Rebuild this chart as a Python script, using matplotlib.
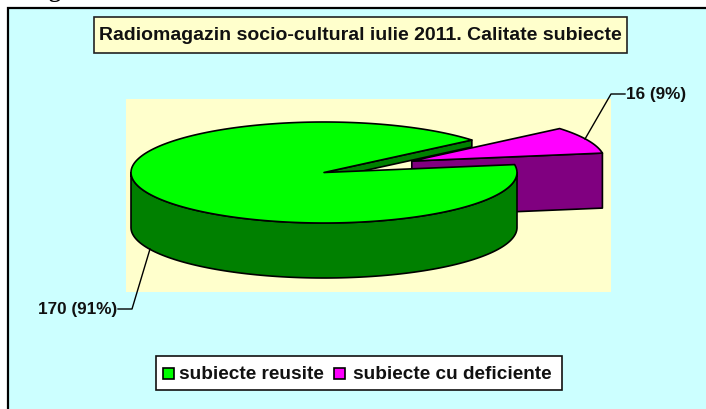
import numpy as np
import matplotlib
matplotlib.use('Agg')
import matplotlib.pyplot as plt
from matplotlib.patches import Polygon, Rectangle

title = 'Radiomagazin socio-cultural iulie 2011. Calitate subiecte'
categories = ['subiecte reusite', 'subiecte cu deficiente']
values = [170, 16]
colors = ['#00FF00', '#FF00FF']
side_colors = ['#008000', '#800080']

plt.rcParams['font.family'] = ['Liberation Sans', 'DejaVu Sans']

# pie geometry in picture pixels
cx, cy = 324, 173.5
rx, ry = 193, 50.5
depth = 55
cut_depth = 7
start_angle = 40
explode = 0.5

fig = plt.figure(figsize=(7.06, 4.10), dpi=100, facecolor='white')
ax = fig.add_axes([0, 0, 1, 1])
ax.set_xlim(0, 706)
ax.set_ylim(410, 0)
ax.axis('off')

# frame, runs off the right and bottom of the picture
ax.add_patch(Rectangle((8, 9), 720, 420, facecolor='#CCFFFF', edgecolor='black', lw=1.6, zorder=0))
ax.text(54, -3.5, 'g', family='Liberation Serif', fontweight='bold', fontsize=17, ha='center', va='baseline')

# plot area
ax.add_patch(Rectangle((126, 100), 485, 193, facecolor='#FFFFCC', edgecolor='none', zorder=1))


def ell(x0, y0, a):
    a = np.radians(a)
    return np.column_stack([x0 + rx * np.cos(a), y0 - ry * np.sin(a)])


total = sum(values)
a1 = start_angle
a2 = a1 + 360 * values[0] / total
a3 = a2 + 360 * values[1] / total
edge = dict(edgecolor='black', lw=1.2, joinstyle='round')

# small slice, pulled out along its middle angle
mid = np.radians((a2 + a3) / 2)
sx = cx + explode * rx * np.cos(mid)
sy = cy - explode * ry * np.sin(mid) - 1
p_a2 = ell(sx, sy, np.array([a2]))[0]
ax.add_patch(Polygon([(sx, sy), p_a2, (p_a2[0], p_a2[1] + depth), (sx, sy + depth)],
                     facecolor=side_colors[1], zorder=2, **edge))
arc = ell(sx, sy, np.linspace(a2, a3, 40))
ax.add_patch(Polygon(np.vstack([[(sx, sy)], arc]), facecolor=colors[1], zorder=3, **edge))

# big slice: thin cut face, outer wall, then top
p_a1 = ell(cx, cy, np.array([a1]))[0]
ax.add_patch(Polygon([(cx, cy), p_a1, (p_a1[0], p_a1[1] + cut_depth), (cx, cy + cut_depth)],
                     facecolor=side_colors[0], zorder=4, **edge))
wall = ell(cx, cy, np.linspace(180, 360, 120))
ax.add_patch(Polygon(np.vstack([wall, wall[::-1] + [0, depth]]),
                     facecolor=side_colors[0], zorder=5, **edge))
arc = ell(cx, cy, np.linspace(a1, a2, 240))
ax.add_patch(Polygon(np.vstack([[(cx, cy)], arc]), facecolor=colors[0], zorder=6, **edge))

# data labels with leaders
labels = ['%d (%d%%)' % (v, round(100 * v / total)) for v in values]
ax.plot([150, 132, 118], [250, 310, 310], color='black', lw=1, zorder=7)
ax.plot([585, 611, 625], [140, 95, 95], color='black', lw=1, zorder=7)
ax.text(77.5, 309.5, labels[0], fontweight='bold', fontsize=12.3, ha='center', va='center', color='#111111', zorder=8)
ax.text(656.5, 94, labels[1], fontweight='bold', fontsize=12.3, ha='center', va='center', color='#111111', zorder=8)

# title box
ax.add_patch(Rectangle((94, 18), 533, 36, facecolor='#FFFFCC', edgecolor='#222222', lw=1.2, zorder=8))
ax.text(360.5, 36, title, fontweight='bold', fontsize=14, ha='center', va='center', color='#111111', zorder=9)

# legend box
ax.add_patch(Rectangle((155.5, 357), 406, 34, facecolor='white', edgecolor='#111111', lw=1.2, zorder=8))
ax.add_patch(Rectangle((163, 369), 10.5, 10.5, facecolor=colors[0], edgecolor='black', lw=1.2, zorder=9))
ax.add_patch(Rectangle((334, 369), 10.5, 10.5, facecolor=colors[1], edgecolor='black', lw=1.2, zorder=9))
ax.text(179, 374.5, categories[0], fontweight='bold', fontsize=13.7, ha='left', va='center', color='#111111', zorder=9)
ax.text(353, 374.5, categories[1], fontweight='bold', fontsize=13.7, ha='left', va='center', color='#111111', zorder=9)

fig.savefig('out.png', dpi=100)
